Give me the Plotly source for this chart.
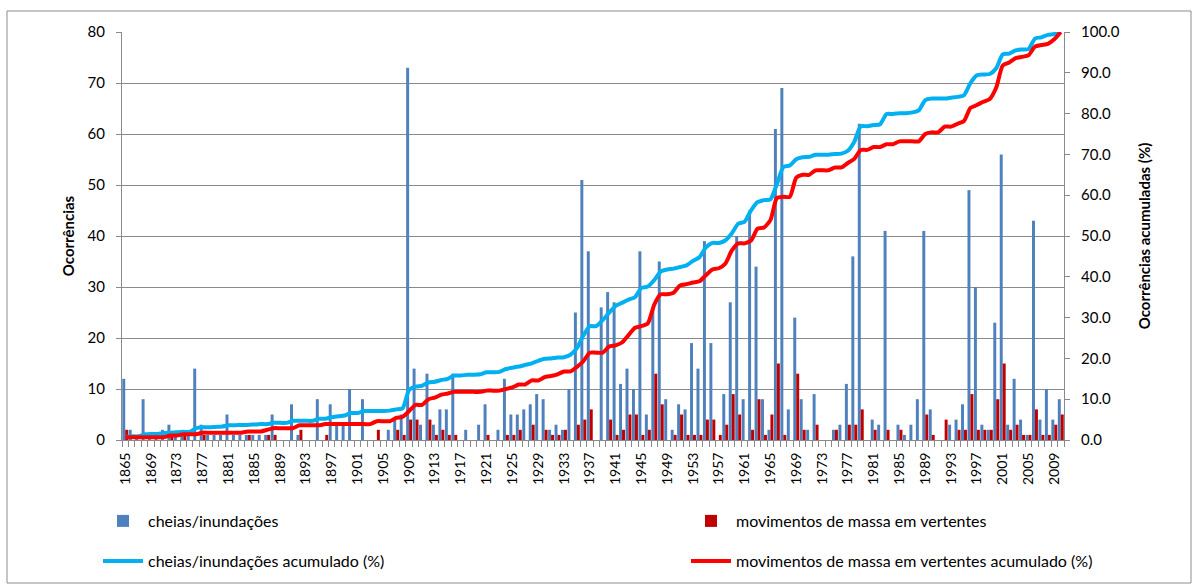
import plotly.graph_objects as go

years = list(range(1865, 2011))

cheias = [
    12, 2, 1, 8, 1, 1, 2, 3, 1, 1,
    1, 14, 3, 1, 1, 1, 5, 1, 1, 1,
    1, 1, 1, 5, 0, 0, 7, 1, 0, 0,
    8, 0, 7, 3, 3, 10, 0, 8, 0, 0,
    0, 2, 4, 5, 73, 14, 3, 13, 3, 6,
    6, 13, 0, 2, 0, 3, 7, 0, 2, 12,
    5, 5, 6, 7, 9, 8, 2, 3, 2, 10,
    25, 51, 37, 0, 26, 29, 27, 11, 14, 10,
    37, 5, 26, 35, 8, 2, 7, 6, 19, 14,
    39, 19, 0, 9, 27, 40, 8, 45, 34, 8,
    2, 61, 69, 6, 24, 8, 2, 9, 0, 0,
    2, 3, 11, 36, 62, 0, 4, 3, 41, 0,
    3, 1, 3, 8, 41, 6, 0, 0, 3, 4,
    7, 49, 30, 3, 2, 23, 56, 3, 12, 4,
    1, 43, 4, 10, 4, 8,
]

movimentos = [
    2, 0, 0, 0, 0, 0, 0, 1, 0, 1,
    0, 0, 1, 0, 0, 0, 0, 0, 0, 1,
    0, 0, 1, 1, 0, 0, 0, 2, 0, 0,
    0, 1, 0, 0, 0, 0, 0, 0, 0, 2,
    0, 0, 2, 1, 4, 4, 0, 4, 1, 2,
    1, 1, 0, 0, 0, 0, 1, 0, 0, 1,
    1, 2, 0, 3, 0, 2, 1, 1, 2, 0,
    3, 4, 6, 0, 0, 4, 1, 2, 5, 5,
    1, 2, 13, 7, 0, 1, 5, 1, 1, 1,
    4, 4, 1, 3, 9, 5, 0, 2, 8, 1,
    5, 15, 1, 0, 13, 2, 0, 3, 0, 0,
    2, 0, 3, 3, 6, 0, 2, 0, 2, 0,
    2, 0, 0, 0, 5, 1, 0, 4, 0, 2,
    2, 9, 2, 2, 2, 8, 15, 2, 3, 1,
    1, 6, 1, 1, 3, 5,
]

cheias_acum = [
    0.7, 0.9, 0.9, 1.4, 1.5, 1.5, 1.7, 1.8, 1.9, 2.0,
    2.0, 2.9, 3.1, 3.1, 3.2, 3.3, 3.6, 3.6, 3.7, 3.7,
    3.8, 3.9, 3.9, 4.2, 4.2, 4.2, 4.7, 4.7, 4.7, 4.7,
    5.2, 5.2, 5.6, 5.8, 6.0, 6.6, 6.6, 7.1, 7.1, 7.1,
    7.1, 7.2, 7.5, 7.8, 12.3, 13.1, 13.3, 14.1, 14.3, 14.7,
    15.0, 15.8, 15.8, 16.0, 16.0, 16.1, 16.6, 16.6, 16.7, 17.4,
    17.7, 18.0, 18.4, 18.8, 19.4, 19.9, 20.0, 20.2, 20.3, 20.9,
    22.5, 25.6, 27.9, 27.9, 29.4, 31.2, 32.9, 33.6, 34.4, 35.0,
    37.3, 37.6, 39.2, 41.3, 41.8, 42.0, 42.4, 42.8, 43.9, 44.8,
    47.2, 48.3, 48.3, 48.9, 50.6, 53.0, 53.5, 56.3, 58.3, 58.8,
    59.0, 62.7, 66.9, 67.3, 68.8, 69.3, 69.4, 69.9, 69.9, 69.9,
    70.1, 70.2, 70.9, 73.1, 76.9, 76.9, 77.2, 77.4, 79.9, 79.9,
    80.1, 80.1, 80.3, 80.8, 83.3, 83.7, 83.7, 83.7, 83.9, 84.1,
    84.5, 87.5, 89.4, 89.6, 89.7, 91.1, 94.5, 94.7, 95.5, 95.7,
    95.8, 98.4, 98.7, 99.3, 99.5, 100.0,
]

movimentos_acum = [
    0.7, 0.7, 0.7, 0.7, 0.7, 0.7, 0.7, 1.1, 1.1, 1.4,
    1.4, 1.4, 1.8, 1.8, 1.8, 1.8, 1.8, 1.8, 1.8, 2.1,
    2.1, 2.1, 2.5, 2.9, 2.9, 2.9, 2.9, 3.6, 3.6, 3.6,
    3.6, 3.9, 3.9, 3.9, 3.9, 3.9, 3.9, 3.9, 3.9, 4.6,
    4.6, 4.6, 5.4, 5.7, 7.1, 8.6, 8.6, 10.0, 10.4, 11.1,
    11.4, 11.8, 11.8, 11.8, 11.8, 11.8, 12.1, 12.1, 12.1, 12.5,
    12.9, 13.6, 13.6, 14.6, 14.6, 15.4, 15.7, 16.1, 16.8, 16.8,
    17.9, 19.3, 21.4, 21.4, 21.4, 22.9, 23.2, 23.9, 25.7, 27.5,
    27.9, 28.6, 33.2, 35.7, 35.7, 36.1, 37.9, 38.2, 38.6, 38.9,
    40.4, 41.8, 42.1, 43.2, 46.4, 48.2, 48.2, 48.9, 51.8, 52.1,
    53.9, 59.3, 59.6, 59.6, 64.3, 65.0, 65.0, 66.1, 66.1, 66.1,
    66.8, 66.8, 67.9, 68.9, 71.1, 71.1, 71.8, 71.8, 72.5, 72.5,
    73.2, 73.2, 73.2, 73.2, 75.0, 75.4, 75.4, 76.8, 76.8, 77.5,
    78.2, 81.4, 82.1, 82.9, 83.6, 86.4, 91.8, 92.5, 93.6, 93.9,
    94.3, 96.4, 96.8, 97.1, 98.2, 100.0,
]

tick_years = years[::4]
tick_labels = [str(y) for y in tick_years]
boundaries = [y - 0.5 for y in years] + [years[-1] + 0.5]

FONT = "Lato"
GRID = "#8a8a8a"

fig = go.Figure()
fig.add_trace(go.Bar(x=years, y=cheias, name="cheias/inundações", showlegend=True,
                     marker=dict(color="#4F81BD", line=dict(width=0)), legend="legend"))
fig.add_trace(go.Bar(x=years, y=movimentos, name="movimentos de massa em vertentes", showlegend=True,
                     marker=dict(color="#C00000", line=dict(width=0)), legend="legend2"))
fig.add_trace(go.Scatter(x=years, y=cheias_acum, name="cheias/inundações acumulado (%)",
                         mode="lines", yaxis="y2", showlegend=True,
                         line=dict(color="#00B0F0", width=4, shape="spline", smoothing=0.6),
                         legend="legend3"))
fig.add_trace(go.Scatter(x=years, y=movimentos_acum, name="movimentos de massa em vertentes acumulado (%)",
                         mode="lines", yaxis="y2", showlegend=True,
                         line=dict(color="#FF0000", width=4, shape="spline", smoothing=0.6),
                         legend="legend4"))

L, R, T, B = 122, 134, 32, 145
W, H = 1198, 585
pw, ph = W - L - R, H - T - B


def px_x(x):
    return (x - L) / pw


def px_y(y):
    return (H - B - y) / ph


def leg(xpx, ypx):
    return dict(
        orientation="h", xref="container", yref="container",
        x=xpx / W, xanchor="left", y=1 - ypx / H, yanchor="middle",
        font=dict(size=16, family=FONT), bgcolor="rgba(0,0,0,0)",
        itemwidth=40,
    )


fig.update_layout(
    width=W, height=H,
    margin=dict(l=L, r=R, t=T, b=B, autoexpand=False),
    paper_bgcolor="white", plot_bgcolor="white",
    font=dict(family=FONT, size=15, color="black"),
    showlegend=True,
    barmode="group", bargap=0.08, bargroupgap=0,
    xaxis=dict(
        range=[years[0] - 0.5, years[-1] + 0.5],
        tickmode="array", tickvals=tick_years, ticktext=tick_labels,
        tickangle=-90, ticks="", ticklabelstandoff=6,
        tickfont=dict(size=14, family=FONT),
        showgrid=False, showline=True, linecolor=GRID, linewidth=1,
        minor=dict(tickmode="array", tickvals=boundaries, ticks="outside", ticklen=6,
                   tickcolor=GRID, showgrid=False),
        zeroline=False,
    ),
    yaxis=dict(
        range=[0, 80], dtick=10, tick0=0,
        showgrid=True, gridcolor=GRID, gridwidth=1,
        showline=True, linecolor=GRID, linewidth=1,
        ticks="outside", ticklen=5, tickcolor=GRID, ticklabelstandoff=8,
        tickfont=dict(size=15, family=FONT),
        zeroline=False,
        title=dict(text="<b>Ocorrências</b>", font=dict(size=15, family=FONT), standoff=9),
    ),
    yaxis2=dict(
        range=[0, 100], dtick=10, tick0=0, tickformat=".1f",
        overlaying="y", side="right",
        showgrid=False, showline=True, linecolor=GRID, linewidth=1,
        ticks="outside", ticklen=5, tickcolor=GRID, ticklabelstandoff=8,
        tickfont=dict(size=15, family=FONT),
        zeroline=False,
        title=dict(text="<b>Ocorrências acumuladas (%)</b>", font=dict(size=15, family=FONT), standoff=20),
    ),
    legend=leg(98, 521),
    legend2=leg(686, 521),
    legend3=leg(98, 561),
    legend4=leg(686, 561),
    shapes=[dict(type="rect", xref="paper", yref="paper",
                 x0=px_x(7), x1=px_x(1191), y0=px_y(583), y1=px_y(11),
                 line=dict(color="#8c8c8c", width=1), fillcolor="rgba(0,0,0,0)", layer="below")],
)

fig.write_html("out.html", config={"displayModeBar": False},
               post_script="document.body.style.margin='0px';document.body.style.overflow='hidden';")
